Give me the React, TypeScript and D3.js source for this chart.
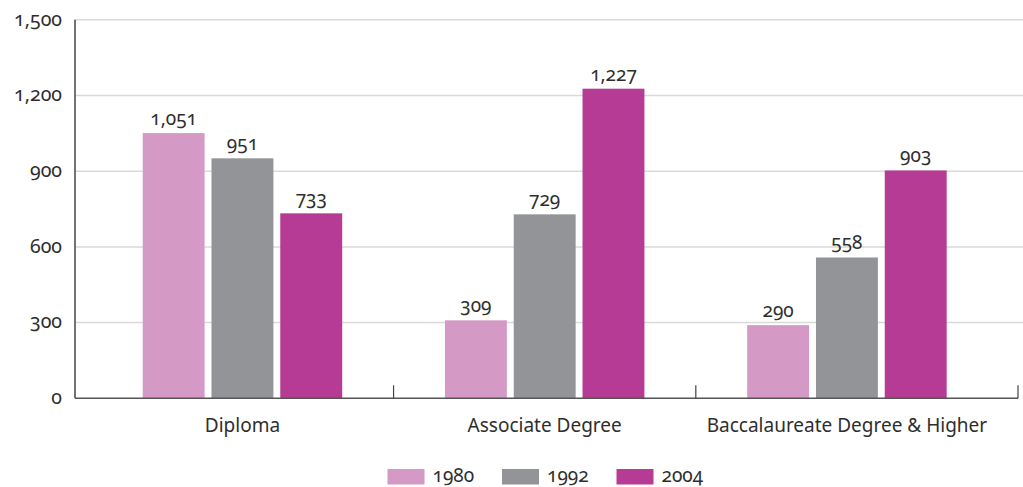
import React from "react";
import * as d3 from "d3";

const categories = ["Diploma", "Associate Degree", "Baccalaureate Degree & Higher"];
const years = ["1980", "1992", "2004"];
const values1980 = [1051, 309, 290];
const values1992 = [951, 729, 558];
const values2004 = [733, 1227, 903];
const yTicks = [0, 300, 600, 900, 1200, 1500];
const colors = ["#d49ac5", "#939498", "#b53b94"];

const W = 1023;
const H = 487;
const margin = { top: 20, right: 5, bottom: 89, left: 75 };
const FONT = "'Noto Sans', sans-serif";
const TEXT = "#2e2e2e";

export default function App() {
  const series = [values1980, values1992, values2004];
  const axisRight = 1018;
  const y = d3
    .scaleLinear()
    .domain([0, 1500])
    .range([H - margin.bottom + 0.3, margin.top - 0.2]);
  const x0 = d3
    .scaleBand<string>()
    .domain(categories)
    .range([margin.left, axisRight])
    .paddingInner(0)
    .paddingOuter(0.06)
    .align(0.45);
  const groupW = x0.bandwidth() * 0.66;
  const x1 = d3.scaleBand<string>().domain(years).range([0, groupW]).paddingInner(0.1);
  const fmt = d3.format(",");
  const base = y(0);

  const boundaries = categories.slice(1).map((c) => x0(c)!);
  boundaries.push(axisRight);

  const legendStep = 114.5;
  const legendW = legendStep * 2 + 37 + 8 + 44;
  const legendX = (margin.left + axisRight) / 2 - legendW / 2;

  return (
    <svg
      width={W}
      height={H}
      style={{ position: "absolute", left: 0, top: 0, background: "#fff" }}
      fontFamily={FONT}
    >
      <g style={{ fontFeatureSettings: "'onum' 1", fontVariantNumeric: "oldstyle-nums" }}>
        {yTicks.map((t) => (
          <g key={t}>
            {t > 0 && (
              <line x1={margin.left} x2={W} y1={y(t)} y2={y(t)} stroke="#d9d9d9" strokeWidth={1.5} />
            )}
            <text
              x={margin.left - 13}
              y={y(t)}
              dy="0.3em"
              textAnchor="end"
              fontSize={19.5}
              fill={TEXT}
            >
              {fmt(t)}
            </text>
          </g>
        ))}

        {categories.map((c, ci) => {
          const gx = x0(c)! + (x0.bandwidth() - groupW) / 2;
          return (
            <g key={c}>
              {years.map((yr, si) => {
                const v = series[si][ci];
                const bx = gx + x1(yr)!;
                return (
                  <g key={yr}>
                    <rect
                      x={bx}
                      y={y(v)}
                      width={x1.bandwidth()}
                      height={base - y(v)}
                      fill={colors[si]}
                    />
                    <text
                      x={bx + x1.bandwidth() / 2}
                      y={y(v) - 8}
                      textAnchor="middle"
                      fontSize={19}
                      fill={TEXT}
                    >
                      {fmt(v)}
                    </text>
                  </g>
                );
              })}
              <text
                x={x0(c)! + x0.bandwidth() / 2}
                y={432}
                textAnchor="middle"
                fontSize={19}
                fill={TEXT}
              >
                {c}
              </text>
            </g>
          );
        })}

        <line x1={margin.left} x2={margin.left} y1={y(1500)} y2={base} stroke="#444" strokeWidth={1.5} />
        <line x1={margin.left} x2={axisRight} y1={base} y2={base} stroke="#555" strokeWidth={1.5} />
        {boundaries.map((bx, i) => (
          <line key={i} x1={bx} x2={bx} y1={base - 13} y2={base} stroke="#444" strokeWidth={1.2} />
        ))}

        {years.map((yr, i) => {
          const lx = legendX + i * legendStep;
          return (
            <g key={yr}>
              <rect x={lx} y={469} width={37} height={15.5} fill={colors[i]} />
              <text x={lx + 45} y={481.5} fontSize={19} fill={TEXT}>
                {yr}
              </text>
            </g>
          );
        })}
      </g>
    </svg>
  );
}
